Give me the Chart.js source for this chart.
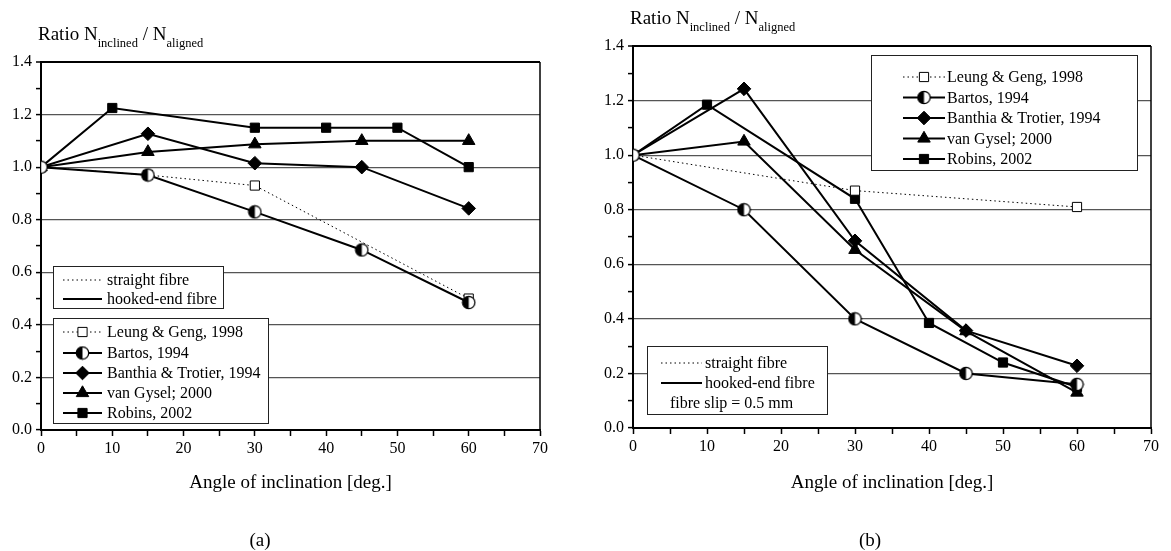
<!DOCTYPE html>
<html>
<head>
<meta charset="utf-8">
<script src="https://cdn.jsdelivr.net/npm/chart.js@4.4.0/dist/chart.umd.min.js"></script>
<style>
  html, body { margin: 0; padding: 0; background: #fff; }
  #wrap { position: relative; width: 1171px; height: 551px; }
  canvas { position: absolute; top: 0; }
  #chartA { left: 0; }
  #chartB { left: 585px; }
</style>
</head>
<body>
<div id="wrap">
  <canvas id="chartA" width="585" height="551"></canvas>
  <canvas id="chartB" width="586" height="551"></canvas>
</div>
<script>
// ---- datos ----
const xTicks = [0, 10, 20, 30, 40, 50, 60, 70];
const yTickLabels = ['0.0', '0.2', '0.4', '0.6', '0.8', '1.0', '1.2', '1.4'];
const nombres = ['Leung & Geng, 1998', 'Bartos, 1994', 'Banthia & Trotier, 1994', 'van Gysel; 2000', 'Robins, 2002'];

// (a)
const leungA_x = [0, 15, 30, 60];
const leungA_y = [1.0, 0.97, 0.93, 0.50];
const bartosA_x = [0, 15, 30, 45, 60];
const bartosA_y = [1.0, 0.97, 0.83, 0.685, 0.485];
const banthiaA_x = [0, 15, 30, 45, 60];
const banthiaA_y = [1.0, 1.127, 1.015, 1.0, 0.843];
const gyselA_x = [0, 15, 30, 45, 60];
const gyselA_y = [1.0, 1.058, 1.087, 1.10, 1.10];
const robinsA_x = [0, 10, 30, 40, 50, 60];
const robinsA_y = [1.0, 1.225, 1.15, 1.15, 1.15, 1.0];

// (b)
const leungB_x = [0, 30, 60];
const leungB_y = [1.0, 0.87, 0.81];
const bartosB_x = [0, 15, 30, 45, 60];
const bartosB_y = [1.0, 0.80, 0.40, 0.20, 0.16];
const banthiaB_x = [0, 15, 30, 45, 60];
const banthiaB_y = [1.0, 1.243, 0.686, 0.357, 0.228];
const gyselB_x = [0, 15, 30, 45, 60];
const gyselB_y = [1.0, 1.05, 0.653, 0.355, 0.13];
const robinsB_x = [0, 10, 30, 40, 50, 60];
const robinsB_y = [1.0, 1.185, 0.84, 0.385, 0.24, 0.15];

const SERIF = '"Liberation Serif", "DejaVu Serif", serif';

// circulo mitad negro / mitad blanco
function crearMedioCirculo() {
    const c = document.createElement('canvas');
    c.width = 15; c.height = 15;
    const g = c.getContext('2d');
    g.beginPath(); g.arc(7.5, 7.5, 6.2, 0, Math.PI * 2); g.fillStyle = '#fff'; g.fill();
    g.beginPath(); g.arc(7.5, 7.5, 6.2, Math.PI / 2, Math.PI * 1.5); g.closePath(); g.fillStyle = '#000'; g.fill();
    g.beginPath(); g.arc(7.5, 7.5, 6.2, 0, Math.PI * 2); g.lineWidth = 1.3; g.strokeStyle = '#000'; g.stroke();
    return c;
}
const medioCirculo = crearMedioCirculo();

function pares(xs, ys) {
    return xs.map((x, i) => ({ x: x, y: ys[i] }));
}

function datasets(series) {
    const estilos = [
        { borderDash: [1.5, 3], borderWidth: 1, pointStyle: 'rect', pointRadius: 6.5, pointBackgroundColor: '#fff', pointBorderWidth: 1, order: 1 },
        { borderWidth: 2, pointStyle: medioCirculo, pointRadius: 7, pointBorderWidth: 0, order: 0 },
        { borderWidth: 2, pointStyle: 'rectRot', pointRadius: 6.8, pointBackgroundColor: '#000', pointBorderWidth: 1, order: 2 },
        { borderWidth: 2, pointStyle: 'triangle', pointRadius: 7.2, pointBackgroundColor: '#000', pointBorderWidth: 1, order: 3 },
        { borderWidth: 2, pointStyle: 'rect', pointRadius: 6.5, pointBackgroundColor: '#000', pointBorderWidth: 1, order: 4 }
    ];
    return series.map((s, i) => Object.assign({
        label: nombres[i],
        data: s,
        borderColor: '#000',
        pointBorderColor: '#000',
        pointHoverRadius: 7,
        fill: false,
        tension: 0
    }, estilos[i]));
}

function textoConSub(ctx, partes, x, y) {
    // partes: [texto, esSub]
    let cx = x;
    partes.forEach(p => {
        ctx.font = p[1] ? '12.5px ' + SERIF : '19px ' + SERIF;
        ctx.fillText(p[0], cx, p[1] ? y + 7 : y);
        cx += ctx.measureText(p[0]).width;
    });
}

function crearDecoracion(cfg) {
    return {
        id: 'decoracion',
        afterDatasetsDraw(chart) {
            const ctx = chart.ctx;
            const area = chart.chartArea;
            ctx.save();
            // borde derecho
            ctx.strokeStyle = '#000';
            ctx.lineWidth = 1.5;
            ctx.beginPath();
            ctx.moveTo(area.right, area.top);
            ctx.lineTo(area.right, area.bottom);
            ctx.stroke();

            // leyendas
            cfg.leyendas.forEach(ley => {
                ctx.fillStyle = '#fff';
                ctx.fillRect(ley.caja[0], ley.caja[1], ley.caja[2], ley.caja[3]);
                ctx.strokeStyle = '#222';
                ctx.lineWidth = 1;
                ctx.setLineDash([]);
                ctx.strokeRect(ley.caja[0] + 0.5, ley.caja[1] + 0.5, ley.caja[2], ley.caja[3]);
                ley.filas.forEach(f => {
                    ctx.font = '16px ' + SERIF;
                    ctx.textBaseline = 'middle';
                    ctx.textAlign = 'left';
                    if (f.linea) {
                        ctx.strokeStyle = '#000';
                        ctx.lineWidth = f.ancho;
                        ctx.setLineDash(f.trazo);
                        ctx.beginPath();
                        ctx.moveTo(ley.linea[0], f.y);
                        ctx.lineTo(ley.linea[1], f.y);
                        ctx.stroke();
                        ctx.setLineDash([]);
                    }
                    if (f.serie !== undefined) {
                        const ds = chart.data.datasets[f.serie];
                        ctx.strokeStyle = '#000';
                        ctx.lineWidth = ds.borderWidth;
                        ctx.setLineDash(ds.borderDash || []);
                        ctx.beginPath();
                        ctx.moveTo(ley.linea[0], f.y);
                        ctx.lineTo(ley.linea[1], f.y);
                        ctx.stroke();
                        ctx.setLineDash([]);
                        ctx.fillStyle = ds.pointBackgroundColor || '#000';
                        ctx.strokeStyle = '#000';
                        ctx.lineWidth = ds.pointBorderWidth;
                        Chart.helpers.drawPoint(ctx, {
                            pointStyle: ds.pointStyle,
                            radius: ds.pointRadius,
                            rotation: 0,
                            borderWidth: ds.pointBorderWidth
                        }, (ley.linea[0] + ley.linea[1]) / 2, f.y);
                    }
                    ctx.fillStyle = '#000';
                    ctx.fillText(f.texto, f.x !== undefined ? f.x : ley.textoX, f.y + 1);
                });
            });

            // titulo eje y con subindices
            ctx.fillStyle = '#000';
            ctx.textBaseline = 'alphabetic';
            ctx.textAlign = 'left';
            textoConSub(ctx, [['Ratio N', false], ['inclined', true], [' / N', false], ['aligned', true]], cfg.tituloY[0], cfg.tituloY[1]);

            // titulo eje x
            ctx.font = '19px ' + SERIF;
            ctx.textAlign = 'center';
            ctx.fillText('Angle of inclination [deg.]', (area.left + area.right) / 2, 488);

            // rotulo (a)/(b)
            ctx.fillText(cfg.rotulo, cfg.rotuloX, 546);
            ctx.restore();
        }
    };
}

function crearGrafico(id, series, pad, anchoY, altoX, cfg) {
    const ctx = document.getElementById(id);
    return new Chart(ctx, {
        type: 'line',
        data: { datasets: datasets(series) },
        options: {
            responsive: false,
            animation: false,
            layout: { padding: pad },
            plugins: {
                legend: { display: false },
                tooltip: { enabled: false }
            },
            scales: {
                x: {
                    type: 'linear',
                    min: 0,
                    max: 70,
                    afterFit: s => { s.height = altoX; },
                    border: { display: true, color: '#000', width: 2 },
                    grid: { drawOnChartArea: false, drawTicks: true, tickLength: 6, tickColor: '#000', tickWidth: 1.5 },
                    ticks: {
                        stepSize: 5,
                        autoSkip: false,
                        maxRotation: 0,
                        padding: 3,
                        color: '#000',
                        font: { family: SERIF, size: 16 },
                        callback: v => xTicks.includes(v) ? String(v) : ''
                    }
                },
                y: {
                    type: 'linear',
                    min: 0,
                    max: 1.4,
                    afterFit: s => { s.width = anchoY; },
                    border: { display: true, color: '#000', width: 2 },
                    grid: {
                        drawTicks: true,
                        tickLength: 5,
                        tickColor: '#000',
                        tickWidth: 1.5,
                        color: c => {
                            const k = Math.round(c.tick.value * 10);
                            if (k === 14) return '#000';
                            if (k === 0 || k % 2) return 'rgba(0,0,0,0)';
                            return '#555';
                        },
                        lineWidth: c => Math.round(c.tick.value * 10) === 14 ? 2 : 1.2
                    },
                    ticks: {
                        stepSize: 0.1,
                        autoSkip: false,
                        padding: 4,
                        color: '#000',
                        font: { family: SERIF, size: 16 },
                        callback: v => {
                            const k = Math.round(v * 10);
                            return k % 2 ? '' : yTickLabels[k / 2];
                        }
                    }
                }
            }
        },
        plugins: [crearDecoracion(cfg)]
    });
}

crearGrafico('chartA',
    [pares(leungA_x, leungA_y), pares(bartosA_x, bartosA_y), pares(banthiaA_x, banthiaA_y), pares(gyselA_x, gyselA_y), pares(robinsA_x, robinsA_y)],
    { left: 0, top: 62, right: 45, bottom: 0 }, 41, 121,
    {
        tituloY: [38, 40],
        rotulo: '(a)', rotuloX: 260,
        leyendas: [
            {
                caja: [53, 266, 170, 42], linea: [63, 102], textoX: 107,
                filas: [
                    { texto: 'straight fibre', y: 280, linea: true, ancho: 1, trazo: [1.5, 3] },
                    { texto: 'hooked-end fibre', y: 299, linea: true, ancho: 2, trazo: [] }
                ]
            },
            {
                caja: [53, 318, 215, 105], linea: [63, 102], textoX: 107,
                filas: [
                    { texto: nombres[0], y: 332, serie: 0 },
                    { texto: nombres[1], y: 353, serie: 1 },
                    { texto: nombres[2], y: 373, serie: 2 },
                    { texto: nombres[3], y: 393, serie: 3 },
                    { texto: nombres[4], y: 413, serie: 4 }
                ]
            }
        ]
    });

crearGrafico('chartB',
    [pares(leungB_x, leungB_y), pares(bartosB_x, bartosB_y), pares(banthiaB_x, banthiaB_y), pares(gyselB_x, gyselB_y), pares(robinsB_x, robinsB_y)],
    { left: 0, top: 46, right: 20, bottom: 0 }, 48, 123,
    {
        tituloY: [45, 24],
        rotulo: '(b)', rotuloX: 285,
        leyendas: [
            {
                caja: [286, 55, 266, 115], linea: [318, 360], textoX: 362,
                filas: [
                    { texto: nombres[0], y: 77, serie: 0 },
                    { texto: nombres[1], y: 97.5, serie: 1 },
                    { texto: nombres[2], y: 118, serie: 2 },
                    { texto: nombres[3], y: 138.5, serie: 3 },
                    { texto: nombres[4], y: 159, serie: 4 }
                ]
            },
            {
                caja: [62, 346, 180, 68], linea: [76, 117], textoX: 120,
                filas: [
                    { texto: 'straight fibre', y: 363, linea: true, ancho: 1, trazo: [1.5, 3] },
                    { texto: 'hooked-end fibre', y: 383, linea: true, ancho: 2, trazo: [] },
                    { texto: 'fibre slip = 0.5 mm', y: 403, x: 85 }
                ]
            }
        ]
    });
</script>
</body>
</html>
